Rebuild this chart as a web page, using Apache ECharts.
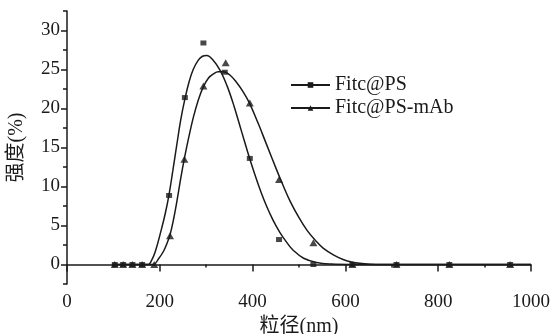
<!DOCTYPE html>
<html><head><meta charset="utf-8">
<script src="https://cdn.jsdelivr.net/npm/echarts@6/dist/echarts.min.js"></script>
<style>html,body{margin:0;padding:0;background:#fff}#c{width:552px;height:334px}</style>
</head><body><div id="c"></div>
<script>
const seriesNames = ['Fitc@PS', 'Fitc@PS-mAb'];
const axisNames = ['粒径(nm)', '强度(%)'];
// measured points
const psPointX = [103,121,141,162,220,254,294,340,394,457,531,615,710,824,955];
const psPointY = [0,0,0,0,8.85,21.4,28.4,24.65,13.6,3.2,0,0,0,0,0];
const mabPointX = [103,121,141,162,188,222,253,294,342,394,457,531,615,710,824,955];
const mabPointY = [0,0,0,0,0,3.7,13.5,22.9,25.85,20.7,10.9,2.8,0,0,0,0];
// fitted curves
const psFitX = [97,150,175,182,190,203,212,220,228,236,245,254,263,272,283,292,301,315,330,345,360,376,392,405,418,430,444,459,474,488,510,538,570,610,1000];
const psFitY = [0,0,0,0.5,1.6,4.4,6.6,9.0,12.0,15.1,18.5,21.2,23.4,25.0,26.2,26.7,26.8,26.2,24.9,22.9,20.3,17.1,13.9,11.5,9.3,7.5,5.7,4.1,2.8,1.8,0.8,0.25,0.05,0,0];
const mabFitX = [97,150,186,197,208,216,222,230,238,245,253,262,272,283,294,305,315,326,337,351,366,380,394,412,430,452,466,481,500,517,535,552,575,595,615,631,655,675,1000];
const mabFitY = [0,0,0,0.7,1.7,2.8,3.8,5.9,8.5,11.0,13.6,16.2,18.8,21.1,22.8,23.9,24.4,24.7,24.7,24.3,23.3,22.1,20.6,18.1,15.4,12.1,10.1,8.1,6.0,4.4,3.1,2.1,1.2,0.65,0.3,0.15,0.04,0,0];
const yMajorTicks = [0,5,10,15,20,25,30];
const yMinorTicks = [-2.5,2.5,7.5,12.5,17.5,22.5,27.5,32.5];

const zip = (a, b) => a.map((v, i) => [v, b[i]]);
const FONT = "'Liberation Serif', 'Noto Sans CJK SC', serif";
const INK = '#1a1a1a';

const chart = echarts.init(document.getElementById('c'), null, {renderer: 'canvas'});
chart.setOption({
  animation: false,
  backgroundColor: '#fff',
  textStyle: {fontFamily: FONT, color: INK},
  grid: {left: 67, right: 21, top: 11, bottom: 50, containLabel: false, outerBoundsMode: 'none'},
  legend: {
    data: seriesNames,
    orient: 'vertical',
    left: 285, top: 70,
    itemWidth: 39, itemHeight: 7, itemGap: 3,
    textStyle: {fontFamily: FONT, fontSize: 20, color: INK},
    itemStyle: {color: INK}
  },
  xAxis: {
    type: 'value', min: 0, max: 1000, interval: 200,
    name: axisNames[0], nameLocation: 'middle', nameGap: 28,
    nameTextStyle: {fontFamily: FONT, fontSize: 20, color: INK},
    axisLine: {lineStyle: {color: INK, width: 1.5}},
    axisTick: {show: true, length: 7, lineStyle: {color: INK, width: 1.5}},
    minorTick: {show: true, splitNumber: 2, length: 3, lineStyle: {color: INK, width: 1.5}},
    axisLabel: {fontFamily: FONT, fontSize: 19, color: INK, margin: 9, formatter: v => String(v)},
    splitLine: {show: false}
  },
  yAxis: [{
    type: 'value', min: -2.5, max: 32.5,
    name: axisNames[1], nameLocation: 'middle', nameGap: 40,
    nameTextStyle: {fontFamily: FONT, fontSize: 20, color: INK},
    axisLine: {show: true, lineStyle: {color: INK, width: 1.5}},
    axisTick: {show: true, length: 6, customValues: yMajorTicks, lineStyle: {color: INK, width: 1.5}},
    axisLabel: {fontFamily: FONT, fontSize: 19, color: INK, margin: 7, customValues: yMajorTicks},
    splitLine: {show: false}
  }, {
    type: 'value', min: -2.5, max: 32.5, position: 'left',
    axisLine: {show: false},
    axisTick: {show: true, length: 4, customValues: yMinorTicks, lineStyle: {color: INK, width: 1.5}},
    axisLabel: {show: false},
    splitLine: {show: false}
  }],
  series: [
    {name: seriesNames[0], type: 'line', data: zip(psFitX, psFitY), smooth: 0.4, symbol: 'rect', showSymbol: false,
     lineStyle: {color: INK, width: 1.5}, itemStyle: {color: INK}, z: 2},
    {name: seriesNames[1], type: 'line', data: zip(mabFitX, mabFitY), smooth: 0.4, symbol: 'triangle', showSymbol: false,
     lineStyle: {color: INK, width: 1.5}, itemStyle: {color: INK}, z: 2},
    {name: seriesNames[0] + ' pts', type: 'scatter', data: zip(psPointX, psPointY), symbol: 'rect', symbolSize: [6, 5],
     itemStyle: {color: INK}, z: 3},
    {name: seriesNames[1] + ' pts', type: 'scatter', data: zip(mabPointX, mabPointY), symbol: 'triangle', symbolSize: [8, 7],
     itemStyle: {color: INK}, z: 3}
  ]
});
</script></body></html>
